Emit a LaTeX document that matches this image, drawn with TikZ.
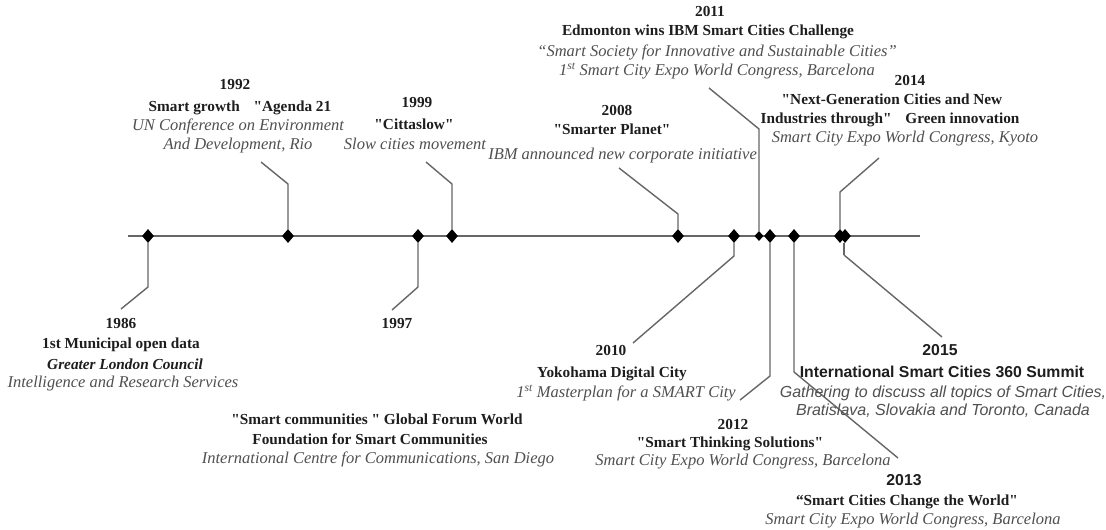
\documentclass[tikz,border=0pt]{standalone}
\usepackage{fontspec}
\setmainfont{Liberation Serif}
\setsansfont{Liberation Sans}
\usetikzlibrary{shapes.geometric}
\definecolor{linegray}{HTML}{666666}
\definecolor{itgray}{HTML}{505050}
\definecolor{bdark}{HTML}{1E1E1E}
\newcommand{\dq}{\textquotedbl}
\tikzset{
  tl/.style={draw=linegray,line width=1.5pt},
  conn/.style={draw=linegray,line width=1.4pt},
  dia/.style={diamond,fill=black,inner sep=0pt,minimum width=12pt,minimum height=14pt},
  smalldia/.style={diamond,fill=black,inner sep=0pt,minimum width=9pt,minimum height=10pt},
  tb/.style={inner sep=0pt,anchor=mid,text=bdark,font=\bfseries\fontsize{15.3}{18}\selectfont},
  tbi/.style={inner sep=0pt,anchor=mid,text=bdark,font=\bfseries\itshape\fontsize{15.3}{18}\selectfont},
  ti/.style={inner sep=0pt,anchor=mid,text=itgray,font=\itshape\fontsize{16.5}{18}\selectfont},
  sb/.style={inner sep=0pt,anchor=mid,text=bdark,font=\sffamily\bfseries\fontsize{15.8}{18}\selectfont},
  si/.style={inner sep=0pt,anchor=mid,text=itgray,font=\sffamily\itshape\fontsize{16}{18}\selectfont},
}
\begin{document}
\begin{tikzpicture}[x=1pt,y=-1pt]
\useasboundingbox[fill=white] (0,0) rectangle (1106,530);
% timeline
\coordinate (tlL) at (128,236);
\coordinate (tlR) at (920,236);
\draw[tl] (tlL) -- (tlR);
% bends
\coordinate (b86a) at (148,287); \coordinate (b86b) at (121,309);
\coordinate (b92a) at (288,184); \coordinate (b92b) at (261,162);
\coordinate (b97a) at (418,287); \coordinate (b97b) at (392,310);
\coordinate (b99a) at (452,184); \coordinate (b99b) at (426,162);
\coordinate (b08a) at (678,214); \coordinate (b08b) at (619,168);
\coordinate (b10a) at (734,256); \coordinate (b10b) at (633,343);
\coordinate (b11a) at (759,129); \coordinate (b11b) at (709,88);
\coordinate (b12a) at (770,376); \coordinate (b12b) at (740,400);
\coordinate (b13a) at (794,372); \coordinate (b13b) at (898,458);
\coordinate (b14a) at (840,192); \coordinate (b14b) at (879,158);
\coordinate (b15a) at (844,255); \coordinate (b15b) at (942,337);
% diamonds
\node[dia] (d86) at (148,236) {};
\node[dia] (d92) at (288,236) {};
\node[dia] (d97) at (418,236) {};
\node[dia] (d99) at (452,236) {};
\node[dia] (d08) at (678,236) {};
\node[dia] (d10) at (734,236) {};
\node[smalldia] (d11) at (759,236) {};
\node[dia] (d12) at (770,236) {};
\node[dia] (d13) at (794,236) {};
\node[dia] (d14) at (840,236) {};
\node[dia] (d15) at (845,236) {};
% connectors
\draw[conn] (d86.south) -- (b86a) -- (b86b);
\draw[conn] (d92.north) -- (b92a) -- (b92b);
\draw[conn] (d97.south) -- (b97a) -- (b97b);
\draw[conn] (d99.north) -- (b99a) -- (b99b);
\draw[conn] (d08.north) -- (b08a) -- (b08b);
\draw[conn] (d10.south) -- (b10a) -- (b10b);
\draw[conn] (d11.north) -- (b11a) -- (b11b);
\draw[conn] (d12.south) -- (b12a) -- (b12b);
\draw[conn] (d13.south) -- (b13a) -- (b13b);
\draw[conn] (d14.north) -- (b14a) -- (b14b);
\draw[conn] (b15a) -- (b15b);
\draw[conn] (d15.south -| b15a) -- (b15a);
% 1986
\node[tb] (y86) at (121,326) {1986};
\node[tb] (t86a) at (121,346) {1st Municipal open data};
\node[tbi] (t86b) at (125,367) {Greater London Council};
\node[ti] (t86c) at (123,385) {Intelligence and Research Services};
% 1997
\node[tb] (y97) at (397,326) {1997};
\node[tb] (t97a) at (377,422) {\dq Smart communities \dq{} Global Forum World};
\node[tb] (t97b) at (370,442) {Foundation for Smart Communities};
\node[ti] (t97c) at (378,461) {International Centre for Communications, San Diego};
% 1992
\node[tb] (y92) at (235,87) {1992};
\node[tb] (t92a) at (240,109) {Smart growth\hspace{0.9em}\dq Agenda 21};
\node[ti] (t92b) at (238,128) {UN Conference on Environment};
\node[ti] (t92c) at (238,147) {And Development, Rio};
% 1999
\node[tb] (y99) at (417,105) {1999};
\node[tb] (t99a) at (414,127) {\dq Cittaslow\dq};
\node[ti] (t99b) at (415,147) {Slow cities movement};
% 2008
\node[tb] (y08) at (617,113) {2008};
\node[tb] (t08a) at (612,132) {\dq Smarter Planet\dq};
\node[ti,anchor=mid east] (t08b) at (757,157) {IBM announced new corporate initiative};
% 2011
\node[tb] (y11) at (710,14) {2011};
\node[tb] (t11a) at (708,33) {Edmonton wins IBM Smart Cities Challenge};
\node[ti] (t11b) at (717,54) {“Smart Society for Innovative and Sustainable Cities”};
\node[ti] (t11c) at (717,73) {1\textsuperscript{st} Smart City Expo World Congress, Barcelona};
% 2014
\node[tb] (y14) at (910,83) {2014};
\node[tb] (t14a) at (892,102) {\dq Next-Generation Cities and New};
\node[tb] (t14b) at (890,121) {Industries through\dq\hspace{0.9em}Green innovation};
\node[ti] (t14c) at (905,140) {Smart City Expo World Congress, Kyoto};
% 2010
\node[tb] (y10) at (611,353) {2010};
\node[tb] (t10a) at (612,375) {Yokohama Digital City};
\node[ti,anchor=mid east] (t10b) at (736,395) {1\textsuperscript{st} Masterplan for a SMART City};
% 2012
\node[tb] (y12) at (733,427) {2012};
\node[tb] (t12a) at (730,445) {\dq Smart Thinking Solutions\dq};
\node[ti] (t12b) at (743,463) {Smart City Expo World Congress, Barcelona};
% 2013
\node[sb] (y13) at (904,483) {2013};
\node[tb] (t13a) at (907,503) {“Smart Cities Change the World\dq};
\node[ti] (t13b) at (913,522) {Smart City Expo World Congress, Barcelona};
% 2015
\node[sb] (y15) at (940,353) {2015};
\node[sb] (t15a) at (942,375) {International Smart Cities 360 Summit};
\node[si] (t15b) at (943,395) {Gathering to discuss all topics of Smart Cities,};
\node[si] (t15c) at (943,413) {Bratislava, Slovakia and Toronto, Canada};
\end{tikzpicture}
\end{document}
